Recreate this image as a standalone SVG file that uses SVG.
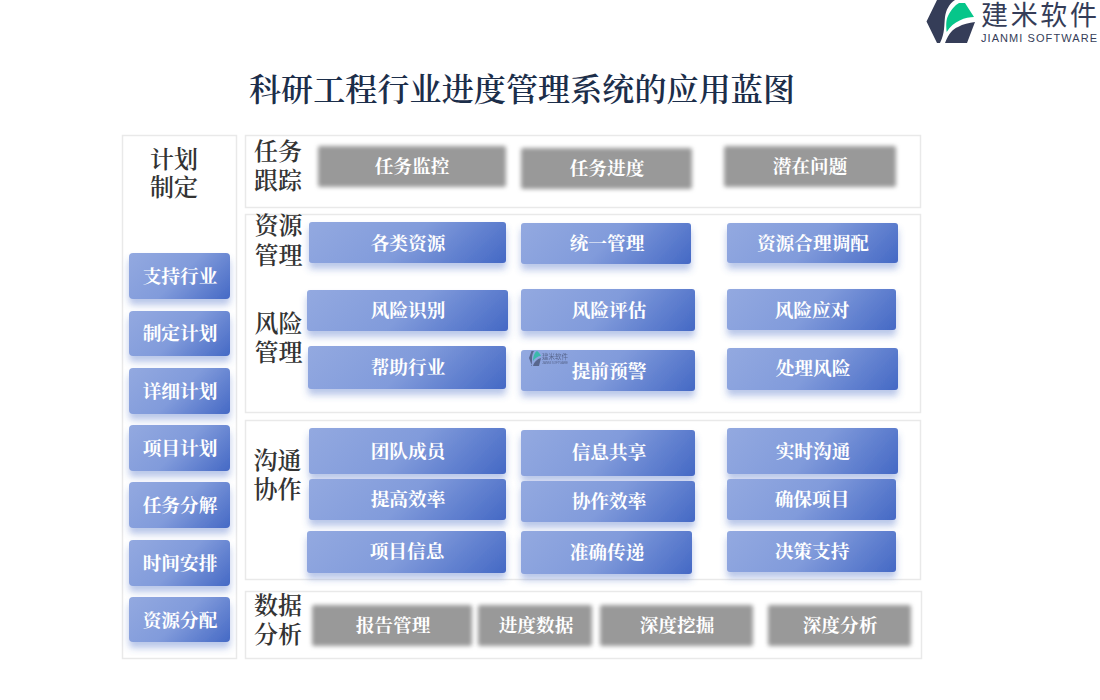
<svg xmlns="http://www.w3.org/2000/svg" width="1100" height="700" viewBox="0 0 1100 700">
<style>
text{font-family:"Noto Serif CJK SC","Liberation Serif","Noto Sans CJK SC",serif}
.panel{fill:#fff;stroke:#e9e9e9;stroke-width:1.5}
.blue{fill:url(#bgw);filter:url(#bs)}
.side{fill:url(#bgs);filter:url(#bs)}
.gray{fill:#999;filter:url(#gs)}
.bt{fill:#fff;font-size:18.700px;font-weight:700;text-anchor:middle}
.h{fill:#333;font-size:24px;font-weight:600;text-anchor:middle}
.title{fill:#1c2e4a;font-size:32px;font-weight:600}
.lg{fill:#353d58}
.lt{fill:#353d58;font-family:"Noto Sans CJK SC","Liberation Sans",sans-serif}
.le{fill:#353d58;font-family:"Liberation Sans",Arial,sans-serif}
</style>
<defs>
<linearGradient id="bgw" x1="0" y1="0" x2="1.160" y2="0.260"><stop offset="0" stop-color="#93a9e0"/><stop offset=".5" stop-color="#819bdb"/><stop offset="1" stop-color="#4569c5"/></linearGradient>
<linearGradient id="bgs" x1="0" y1="0" x2="1.205" y2="0.549"><stop offset="0" stop-color="#93a9e0"/><stop offset=".5" stop-color="#819bdb"/><stop offset="1" stop-color="#4569c5"/></linearGradient>
<filter id="bs" x="-20%" y="-20%" width="140%" height="170%"><feDropShadow dx="0" dy="6" stdDeviation="3.500" flood-color="#4569c5" flood-opacity=".38"/></filter>
<filter id="gs" x="-5%" y="-15%" width="110%" height="130%"><feGaussianBlur stdDeviation="2.200"/></filter>
</defs>
<rect width="1100" height="700" fill="#fff"/>
<g id="logo">
<path class="lg" d="M926.500 21.500 L937 0 L955 0 C949 4 946 10 945 17 C944 25 945 33 940 43 L937 43 Z"/>
<path d="M946.700 32 C946 25 946 20 948 16 C951 10 955 5 959 3 L965 3 L974 17 C966 17 953 21 946.700 32 Z" fill="#06c68a"/>
<path class="lg" d="M945 43 C949 33 953 29 958 27 C963 24 969 23 975 22 L967 43 Z"/>
<text class="lt" x="981" y="25" font-size="27" textLength="116">建米软件</text>
<text class="le" x="981" y="42" font-size="11" textLength="116">JIANMI SOFTWARE</text>
</g>
<text id="title" class="title" x="249" y="101" textLength="546">科研工程行业进度管理系统的应用蓝图</text>
<g id="panels">
<rect class="panel" x="122.500" y="135.500" width="114" height="523"/>
<rect class="panel" x="245.500" y="135.500" width="675" height="72"/>
<rect class="panel" x="245.500" y="214.500" width="675" height="198"/>
<rect class="panel" x="245.500" y="420.500" width="675" height="159"/>
<rect class="panel" x="245.500" y="591.500" width="676" height="67"/>
</g>
<g id="headings">
<text class="h" x="174" y="168">计划</text><text class="h" x="174" y="196">制定</text>
<text class="h" x="278" y="160">任务</text><text class="h" x="278" y="189">跟踪</text>
<text class="h" x="278.500" y="234">资源</text><text class="h" x="278.500" y="264">管理</text>
<text class="h" x="278.500" y="332">风险</text><text class="h" x="278.500" y="361">管理</text>
<text class="h" x="277.500" y="469">沟通</text><text class="h" x="277.500" y="498">协作</text>
<text class="h" x="278" y="614">数据</text><text class="h" x="278" y="643">分析</text>
</g>
<g id="left-nodes">
<g id="n1"><rect class="side" x="129" y="253" width="101" height="46" rx="4"/><text class="bt" x="180" y="283">支持行业</text></g>
<g id="n2"><rect class="side" x="129" y="311" width="101" height="45" rx="4"/><text class="bt" x="180" y="340">制定计划</text></g>
<g id="n3"><rect class="side" x="129" y="368" width="101" height="46" rx="4"/><text class="bt" x="180" y="398">详细计划</text></g>
<g id="n4"><rect class="side" x="129" y="425" width="101" height="46" rx="4"/><text class="bt" x="180" y="455">项目计划</text></g>
<g id="n5"><rect class="side" x="129" y="482" width="101" height="46" rx="4"/><text class="bt" x="180" y="512">任务分解</text></g>
<g id="n6"><rect class="side" x="129" y="540" width="101" height="46" rx="4"/><text class="bt" x="180" y="570">时间安排</text></g>
<g id="n7"><rect class="side" x="129" y="597" width="101" height="45" rx="4"/><text class="bt" x="180" y="627">资源分配</text></g>
</g>
<g id="track">
<g id="t1"><rect class="gray" x="318" y="146" width="188" height="41" rx="2"/><text class="bt" x="412" y="173">任务监控</text></g>
<g id="t2"><rect class="gray" x="521" y="148" width="171" height="41" rx="2"/><text class="bt" x="607" y="175">任务进度</text></g>
<g id="t3"><rect class="gray" x="724" y="146" width="172" height="41" rx="2"/><text class="bt" x="810" y="173">潜在问题</text></g>
</g>
<g id="resource">
<g id="r1"><rect class="blue" x="309" y="222" width="197" height="41" rx="3"/><text class="bt" x="408" y="250">各类资源</text></g>
<g id="r2"><rect class="blue" x="521" y="223" width="170" height="41" rx="3"/><text class="bt" x="607" y="250">统一管理</text></g>
<g id="r3"><rect class="blue" x="727" y="223" width="171" height="40" rx="3"/><text class="bt" x="813" y="250">资源合理调配</text></g>
</g>
<g id="risk">
<g id="k1"><rect class="blue" x="307" y="290" width="201" height="41" rx="3"/><text class="bt" x="408" y="317">风险识别</text></g>
<g id="k2"><rect class="blue" x="521" y="289" width="174" height="42" rx="3"/><text class="bt" x="609" y="317">风险评估</text></g>
<g id="k3"><rect class="blue" x="727" y="289" width="169" height="41" rx="3"/><text class="bt" x="812" y="317">风险应对</text></g>
<g id="k4"><rect class="blue" x="308" y="346" width="198" height="43" rx="3"/><text class="bt" x="408" y="374">帮助行业</text></g>
<g id="k5"><rect class="blue" x="521" y="350" width="174" height="41" rx="3"/><text class="bt" x="609" y="378">提前预警</text>
<g id="watermark" opacity=".6"><path class="lg" d="M531.500 351 L534 351 C532.500 353 532 356 532 359 C532 362 532 364 531 366 L532 366 L529 358 Z"/><path d="M533 361 C533 356 535 352 537 351 C539 352 540 354 541 356 C538 356 535 358 533 361 Z" fill="#06c68a"/><path class="lg" d="M533 366 C534 362 537 359 541 358 L539 366 Z"/><text class="lt" x="542" y="359" font-size="6.500" textLength="26">建米软件</text><text class="le" x="542" y="364" font-size="3" textLength="26">JIANMI SOFTWARE</text></g></g>
<g id="k6"><rect class="blue" x="727" y="348" width="171" height="42" rx="3"/><text class="bt" x="813" y="375">处理风险</text></g>
</g>
<g id="comm">
<g id="c1"><rect class="blue" x="309" y="428" width="197" height="46" rx="3"/><text class="bt" x="408" y="458">团队成员</text></g>
<g id="c2"><rect class="blue" x="521" y="430" width="174" height="46" rx="3"/><text class="bt" x="609" y="459">信息共享</text></g>
<g id="c3"><rect class="blue" x="727" y="428" width="171" height="46" rx="3"/><text class="bt" x="813" y="458">实时沟通</text></g>
<g id="c4"><rect class="blue" x="309" y="479" width="197" height="41" rx="3"/><text class="bt" x="408" y="506">提高效率</text></g>
<g id="c5"><rect class="blue" x="521" y="481" width="174" height="41" rx="3"/><text class="bt" x="609" y="508">协作效率</text></g>
<g id="c6"><rect class="blue" x="727" y="479" width="169" height="41" rx="3"/><text class="bt" x="812" y="506">确保项目</text></g>
<g id="c7"><rect class="blue" x="307" y="531" width="199" height="42" rx="3"/><text class="bt" x="407" y="558">项目信息</text></g>
<g id="c8"><rect class="blue" x="521" y="531" width="171" height="43" rx="3"/><text class="bt" x="607" y="559">准确传递</text></g>
<g id="c9"><rect class="blue" x="727" y="531" width="169" height="41" rx="3"/><text class="bt" x="812" y="558">决策支持</text></g>
</g>
<g id="data">
<g id="d1"><rect class="gray" x="312" y="605" width="160" height="41" rx="2"/><text class="bt" x="393" y="632">报告管理</text></g>
<g id="d2"><rect class="gray" x="478" y="605" width="114" height="41" rx="2"/><text class="bt" x="536" y="632">进度数据</text></g>
<g id="d3"><rect class="gray" x="600" y="605" width="153" height="41" rx="2"/><text class="bt" x="677" y="632">深度挖掘</text></g>
<g id="d4"><rect class="gray" x="768" y="605" width="143" height="41" rx="2"/><text class="bt" x="840" y="632">深度分析</text></g>
</g>
<g id="connectors"></g>
</svg>
